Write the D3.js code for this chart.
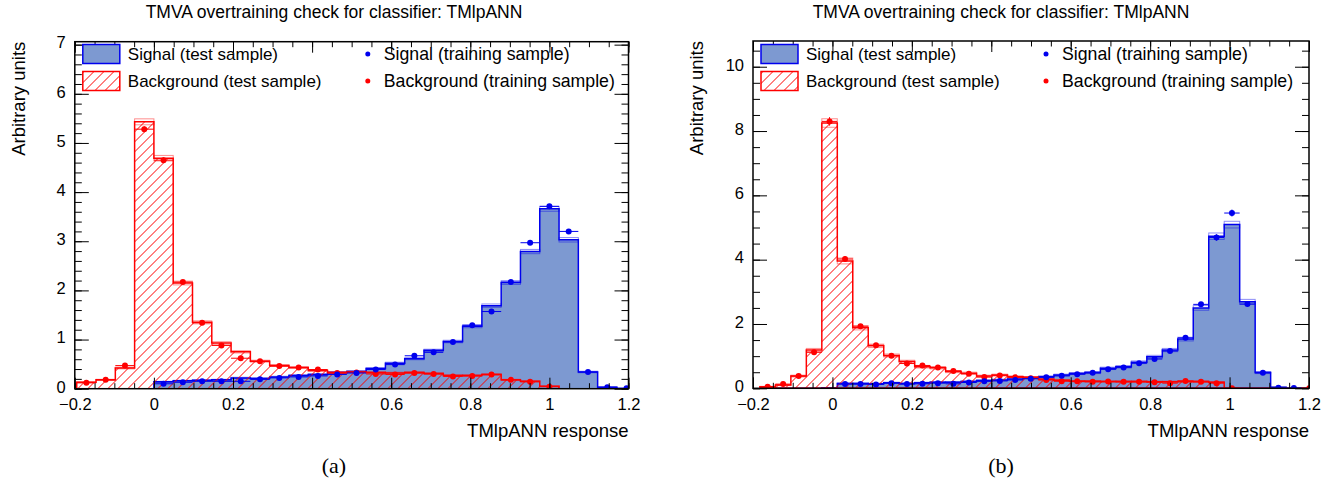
<!DOCTYPE html>
<html>
<head>
<meta charset="utf-8">
<script src="https://cdn.jsdelivr.net/npm/d3@7/dist/d3.min.js"></script>
<style>
  body { margin: 0; background: #fff; }
  text { font-family: "Liberation Sans", Arial, Helvetica, sans-serif; }
</style>
</head>
<body>
<script>

// ---- data ----
// panel (a): 29 bins
var binStartA = -0.1951;
var binWidthA = 0.04878;
var sigTestA  = [0, 0, 0, 0, 0.14, 0.16, 0.17, 0.18, 0.22, 0.21, 0.24, 0.27, 0.29, 0.33,
                 0.35, 0.41, 0.52, 0.61, 0.78, 0.96, 1.27, 1.69, 2.16, 2.79, 3.66, 3.03, 0.34, 0.03, 0.005];
var sigTrainA = [0, 0, 0, 0, 0.10, 0.13, 0.15, 0.15, 0.15, 0.19, 0.22, 0.24, 0.26, 0.29,
                 0.32, 0.39, 0.49, 0.67, 0.74, 0.95, 1.29, 1.57, 2.17, 2.97, 3.71, 3.20, 0.34, 0.03, 0.01];
var bkgTestA  = [0.13, 0.18, 0.42, 5.43, 4.69, 2.15, 1.35, 0.93, 0.75, 0.56, 0.47, 0.43, 0.37, 0.33,
                 0.34, 0.33, 0.32, 0.33, 0.31, 0.27, 0.27, 0.29, 0.18, 0.15, 0.05, 0, 0, 0, 0];
var bkgTrainA = [0.12, 0.18, 0.47, 5.28, 4.65, 2.17, 1.34, 0.88, 0.62, 0.56, 0.46, 0.43, 0.39, 0.32,
                 0.33, 0.30, 0.29, 0.32, 0.30, 0.25, 0.26, 0.29, 0.18, 0.14, 0.04, 0, 0, 0, 0];

// panel (b): 36 bins
var binStartB = -0.1826;
var binWidthB = 0.03897;
var sigTestB  = [0, 0, 0, 0, 0.02, 0.15, 0.15, 0.14, 0.17, 0.15, 0.17, 0.19, 0.19, 0.21, 0.24, 0.26, 0.29, 0.32,
                 0.36, 0.41, 0.46, 0.49, 0.62, 0.67, 0.81, 0.98, 1.19, 1.53, 2.50, 4.73, 5.09, 2.69, 0.49, 0.03, 0.005, 0];
var sigTrainB = [0, 0, 0, 0, 0, 0.13, 0.13, 0.12, 0.16, 0.13, 0.14, 0.16, 0.14, 0.18, 0.22, 0.23, 0.26, 0.30,
                 0.34, 0.39, 0.44, 0.48, 0.59, 0.65, 0.78, 0.91, 1.16, 1.57, 2.61, 4.69, 5.45, 2.62, 0.48, 0.02, 0.01, 0];
var bkgTestB  = [0.05, 0.10, 0.38, 1.19, 8.25, 3.96, 1.88, 1.32, 1.02, 0.83, 0.67, 0.64, 0.52, 0.47, 0.38, 0.41, 0.36, 0.34,
                 0.28, 0.25, 0.22, 0.22, 0.21, 0.21, 0.21, 0.20, 0.20, 0.21, 0.21, 0.19, 0.005, 0, 0, 0, 0, 0];
var bkgTrainB = [0.05, 0.13, 0.38, 1.12, 8.30, 4.02, 1.93, 1.34, 1.01, 0.77, 0.71, 0.65, 0.54, 0.45, 0.35, 0.40, 0.34, 0.31,
                 0.26, 0.22, 0.22, 0.20, 0.21, 0.20, 0.20, 0.19, 0.16, 0.23, 0.20, 0.16, 0.005, 0, 0, 0, 0, 0.005];

var xTicks = [-0.2, 0, 0.2, 0.4, 0.6, 0.8, 1, 1.2];
var yTicksA = [0, 1, 2, 3, 4, 5, 6, 7];
var yTicksB = [0, 2, 4, 6, 8, 10];
var legendLabels = ["Signal (test sample)", "Background (test sample)",
                    "Signal (training sample)", "Background (training sample)"];
var titleText = "TMVA overtraining check for classifier: TMlpANN";
var xTitle = "TMlpANN response";
var yTitle = "Arbitrary units";

var sigFill = "#7d99d1", sigLine = "#0000ee", bkgLine = "#ff0000";

var svg = d3.select("body").append("svg")
  .attr("width", 1335).attr("height", 490);
var defs = svg.append("defs");

// red "/" hatching drawn as plain lines inside a clip path
// (lines kept on x+y = n+0.5 so they stay crisp red)
var hatch = function(parent, clipId, x0, x1, y0, y1) {
  var hg = parent.append("g").attr("clip-path", "url(#" + clipId + ")")
    .attr("stroke", bkgLine).attr("stroke-width", 1);
  var h = y1 - y0;
  var base = Math.floor(x0 - h);
  var frac = (((0.5 - base - y1) % 1) + 1) % 1;
  for (var c = base + frac; c < x1 + 10; c += 10) {
    hg.append("line").attr("x1", c).attr("y1", y1).attr("x2", c + h).attr("y2", y0);
  }
};

var panels = [
  { id: "a", x0: 74.8, x1: 628.5, y0: 41.7, y1: 388.7, yMax: 7.06, yTicks: yTicksA, yMinor: 0.2,
    start: binStartA, width: binWidthA, sigTest: sigTestA, sigTrain: sigTrainA,
    bkgTest: bkgTestA, bkgTrain: bkgTrainA, errK: 0.026, center: 334, caption: "(a)" },
  { id: "b", x0: 753, x1: 1309, y0: 41, y1: 388.3, yMax: 10.8, yTicks: yTicksB, yMinor: 0.5,
    start: binStartB, width: binWidthB, sigTest: sigTestB, sigTrain: sigTrainB,
    bkgTest: bkgTestB, bkgTrain: bkgTrainB, errK: 0.046, center: 1001, caption: "(b)" }
];

panels.forEach(function(p) {
  var x = d3.scaleLinear().domain([-0.2, 1.2]).range([p.x0, p.x1]);
  var y = d3.scaleLinear().domain([0, p.yMax]).range([p.y1, p.y0]);
  var lo = function(i) { return p.start + i * p.width; };

  defs.append("clipPath").attr("id", "clip" + p.id)
    .append("rect").attr("x", p.x0).attr("y", p.y0)
    .attr("width", p.x1 - p.x0).attr("height", p.y1 - p.y0);

  var g = svg.append("g");
  var plot = g.append("g").attr("clip-path", "url(#clip" + p.id + ")");

  // step outline of a histogram
  var stepPts = function(vals) {
    var pts = [[lo(0), 0]];
    vals.forEach(function(v, i) { pts.push([lo(i), v]); pts.push([lo(i + 1), v]); });
    pts.push([lo(vals.length), 0]);
    return pts;
  };
  var line = d3.line().x(function(d) { return x(d[0]); }).y(function(d) { return y(d[1]); });

  // light error band on the test histograms
  var band = function(vals, col) {
    plot.append("g").selectAll("rect").data(vals.map(function(v, i) { return { i: i, v: v }; })
      .filter(function(d) { return d.v > 0.02; }))
      .enter().append("rect")
      .attr("x", function(d) { return x(lo(d.i)); })
      .attr("width", x(lo(1)) - x(lo(0)))
      .attr("y", function(d) { return y(d.v + p.errK * Math.sqrt(d.v)); })
      .attr("height", function(d) { return y(d.v - p.errK * Math.sqrt(d.v)) - y(d.v + p.errK * Math.sqrt(d.v)); })
      .attr("fill", "none").attr("stroke", col).attr("stroke-opacity", 0.45).attr("stroke-width", 1);
  };

  plot.append("path").attr("d", line(stepPts(p.sigTest)) + "Z")
    .attr("fill", sigFill).attr("stroke", sigLine).attr("stroke-width", 1.5);
  band(p.sigTest, sigLine);

  var bkgPath = line(stepPts(p.bkgTest)) + "Z";
  defs.append("clipPath").attr("id", "bkgclip" + p.id).append("path").attr("d", bkgPath);
  hatch(plot, "bkgclip" + p.id, p.x0, p.x1, p.y0, p.y1);
  plot.append("path").attr("d", bkgPath)
    .attr("fill", "none").attr("stroke", bkgLine).attr("stroke-width", 1.5);
  band(p.bkgTest, bkgLine);

  // training points with error bars
  var drawPoints = function(vals, col) {
    var data = vals.map(function(v, i) { return { i: i, v: v }; })
      .filter(function(d) { return d.v > 0; });
    var pg = plot.append("g").attr("stroke", col).attr("fill", col);
    pg.selectAll("line.h").data(data).enter().append("line")
      .attr("x1", function(d) { return x(lo(d.i)); })
      .attr("x2", function(d) { return x(lo(d.i + 1)); })
      .attr("y1", function(d) { return y(d.v); })
      .attr("y2", function(d) { return y(d.v); })
      .attr("stroke-width", 1);
    pg.selectAll("line.v").data(data).enter().append("line")
      .attr("x1", function(d) { return x(lo(d.i) + p.width / 2); })
      .attr("x2", function(d) { return x(lo(d.i) + p.width / 2); })
      .attr("y1", function(d) { return y(d.v + p.errK * Math.sqrt(d.v)); })
      .attr("y2", function(d) { return y(d.v - p.errK * Math.sqrt(d.v)); })
      .attr("stroke-width", 1);
    pg.selectAll("circle").data(data).enter().append("circle")
      .attr("cx", function(d) { return x(lo(d.i) + p.width / 2); })
      .attr("cy", function(d) { return y(d.v); })
      .attr("r", 3).attr("stroke", "none");
  };
  drawPoints(p.bkgTrain, bkgLine);
  drawPoints(p.sigTrain, sigLine);

  // frame and ticks (ROOT style: inside, on all sides)
  var fmt = d3.format("~g");
  var xMinor = d3.range(-0.2, 1.2001, 0.05);
  var yMinor = d3.range(0, p.yMax, p.yMinor);
  var style = function(sel) {
    sel.select(".domain").remove();
    sel.selectAll("line").attr("stroke", "#000");
    sel.selectAll("text").attr("font-size", 16.5).attr("fill", "#000")
      .style("font-family", "'Liberation Sans', Arial, sans-serif");
  };
  g.append("g").attr("transform", "translate(0," + p.y1 + ")")
    .call(d3.axisBottom(x).tickValues(xMinor).tickSize(-5.5).tickFormat("")).call(style);
  g.append("g").attr("transform", "translate(0," + p.y1 + ")")
    .call(d3.axisBottom(x).tickValues(xTicks).tickSize(-11).tickPadding(9.5).tickFormat(fmt)).call(style);
  g.append("g").attr("transform", "translate(0," + p.y0 + ")")
    .call(d3.axisTop(x).tickValues(xMinor).tickSize(-5.5).tickFormat("")).call(style);
  g.append("g").attr("transform", "translate(0," + p.y0 + ")")
    .call(d3.axisTop(x).tickValues(xTicks).tickSize(-11).tickFormat("")).call(style);
  g.append("g").attr("transform", "translate(" + p.x0 + ",0)")
    .call(d3.axisLeft(y).tickValues(yMinor).tickSize(-7).tickFormat("")).call(style);
  g.append("g").attr("transform", "translate(" + p.x0 + ",0)")
    .call(d3.axisLeft(y).tickValues(p.yTicks).tickSize(-14).tickPadding(9).tickFormat(fmt)).call(style)
    .selectAll("text").attr("dy", "0.2em");
  g.append("g").attr("transform", "translate(" + p.x1 + ",0)")
    .call(d3.axisRight(y).tickValues(yMinor).tickSize(-7).tickFormat("")).call(style);
  g.append("g").attr("transform", "translate(" + p.x1 + ",0)")
    .call(d3.axisRight(y).tickValues(p.yTicks).tickSize(-14).tickFormat("")).call(style);

  g.append("rect").attr("x", p.x0).attr("y", p.y0)
    .attr("width", p.x1 - p.x0).attr("height", p.y1 - p.y0)
    .attr("fill", "none").attr("stroke", "#000").attr("stroke-width", 1.5);

  // titles
  g.append("text").attr("x", p.center).attr("y", 18).attr("text-anchor", "middle")
    .attr("font-size", 17.5).text(titleText);
  g.append("text").attr("x", p.x1).attr("y", 437).attr("text-anchor", "end")
    .attr("font-size", 18.5).text(xTitle);
  g.append("text").attr("transform", "translate(" + (p.x0 - 50) + "," + p.y0 + ") rotate(-90)")
    .attr("text-anchor", "end").attr("font-size", 18.5).text(yTitle);
  g.append("text").attr("x", p.center).attr("y", 473).attr("text-anchor", "middle")
    .attr("font-size", 22).style("font-family", "'Liberation Serif', 'DejaVu Serif', serif")
    .text(p.caption);

  // legend
  var lg = g.append("g");
  lg.append("rect").attr("x", p.x0 + 8).attr("y", 44.5).attr("width", 37).attr("height", 19)
    .attr("fill", sigFill).attr("stroke", sigLine).attr("stroke-width", 1.5);
  defs.append("clipPath").attr("id", "legclip" + p.id)
    .append("rect").attr("x", p.x0 + 8).attr("y", 71.5).attr("width", 37).attr("height", 19);
  lg.append("rect").attr("x", p.x0 + 8).attr("y", 71.5).attr("width", 37).attr("height", 19)
    .attr("fill", "#fff");
  hatch(lg, "legclip" + p.id, p.x0, p.x0 + 60, 71.5, 90.5);
  lg.append("rect").attr("x", p.x0 + 8).attr("y", 71.5).attr("width", 37).attr("height", 19)
    .attr("fill", "none").attr("stroke", bkgLine).attr("stroke-width", 1.5);
  lg.append("circle").attr("cx", p.x0 + 293).attr("cy", 54).attr("r", 2.5).attr("fill", sigLine);
  lg.append("circle").attr("cx", p.x0 + 293).attr("cy", 81).attr("r", 2.5).attr("fill", bkgLine);
  lg.selectAll("text.lab").data(legendLabels).enter().append("text")
    .attr("x", function(d, i) { return p.x0 + (i < 2 ? 53 : 309); })
    .attr("y", function(d, i) { return (i % 2 === 0 ? 54 : 81) + 6; })
    .attr("font-size", function(d, i) { return i < 2 ? 17 : 17.7; })
    .text(function(d) { return d; });
});

</script>
</body>
</html>
